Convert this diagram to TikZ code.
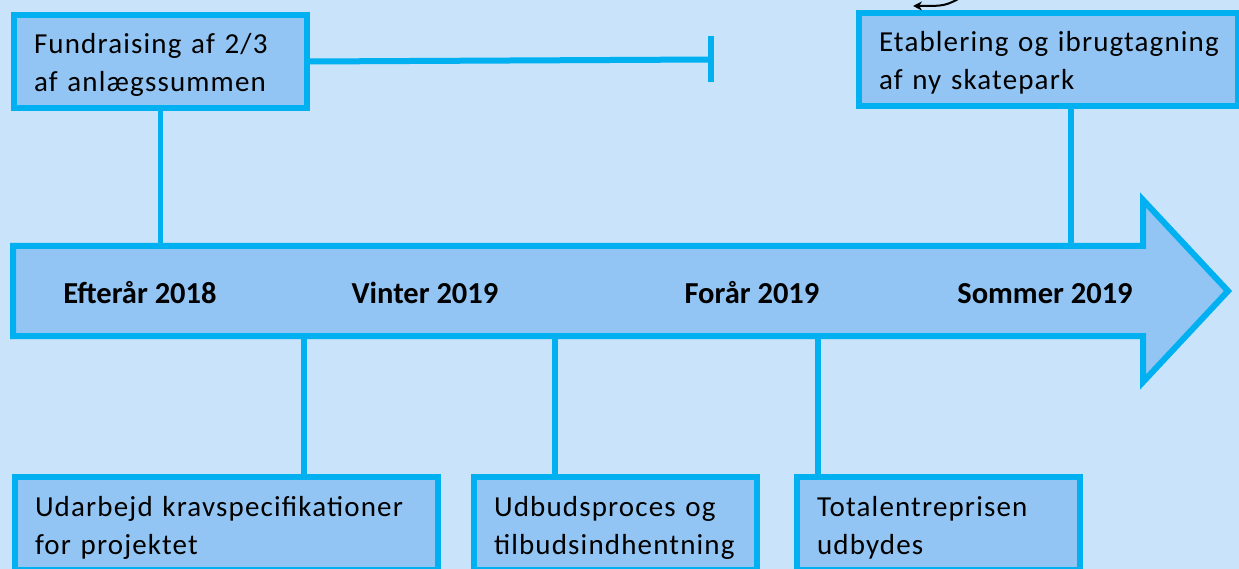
\documentclass[tikz,border=0pt]{standalone}
\usepackage{fontspec}
\setmainfont{Carlito}
\newfontfamily\boxfont{Carlito}[LetterSpace=4,WordSpace=0.75]
\usetikzlibrary{arrows.meta}
\definecolor{bgblue}{RGB}{200,227,250}
\definecolor{boxblue}{RGB}{146,197,244}
\definecolor{lineblue}{RGB}{0,176,240}
\newcommand\topstrut{\rule{0pt}{33pt}}
\newcommand\botstrut{\rule[-10pt]{0pt}{10pt}}
\tikzset{
	box/.style={draw=lineblue, fill=boxblue, line width=6pt, anchor=north west, align=left,
		inner xsep=20pt, inner ysep=6pt, font=\boxfont\fontsize{29}{38}\selectfont},
	link/.style={draw=lineblue, line width=5.5pt},
	season/.style={anchor=base, font=\bfseries\fontsize{30.5}{34}\selectfont}
}

\begin{document}
\begin{tikzpicture}[x=1pt, y=-1pt]
			%%%%% START %%%%%
			
			\useasboundingbox (0, 0) rectangle (1239, 569);
			\clip (0, 0) rectangle (1239, 569);
			\fill[bgblue] (0, 0) rectangle (1239, 569);
			
			% boxes above the arrow
			\node[box, text width=253pt] (fund) at (11, 12) {\topstrut Fundraising af 2/3\\af anlægssummen\botstrut};
			\node[box, text width=339pt] (etab) at (856, 10) {\topstrut Etablering og ibrugtagning\\af ny skatepark\botstrut};
			
			% boxes below the arrow
			\node[box, text width=383pt] (krav) at (12, 474) {\topstrut Udarbejd kravspecifikationer\\for projektet\botstrut};
			\node[box, text width=243pt] (udbud) at (471, 474) {\topstrut Udbudsproces og\\tilbudsindhentning\botstrut};
			\node[box, text width=243pt] (total) at (794, 474) {\topstrut Totalentreprisen\\udbydes\botstrut};
			
			\coordinate (atop) at (13, 246);
			\coordinate (abot) at (13, 336);
			\coordinate (stop) at (711, 59.5);
			
			% connectors
			\draw[link, line width=6pt] (fund.east) -- (stop);
			\draw[link, line width=6.5pt] ([yshift=23pt]stop) -- ([yshift=-23pt]stop);
			\draw[link] (fund.south) -- (fund.south |- atop);
			\draw[link] (1071, 0 |- etab.south) -- (1071, 0 |- atop);
			\draw[link] (304, 0 |- krav.north) -- (304, 0 |- abot);
			\draw[link] (555, 0 |- udbud.north) -- (555, 0 |- abot);
			\draw[link] (818, 0 |- total.north) -- (818, 0 |- abot);
			
			% time arrow
			\draw[draw=lineblue, fill=boxblue, line width=6pt, line join=miter]
				(atop) -- (1143, 246) -- (1143, 200) -- (1228, 291) -- (1143, 382) -- (1143, 336) -- (abot) -- cycle;
			
			\node[season] (h18) at (140, 303) {Efterår 2018};
			\node[season] (v19) at (425, 303) {Vinter 2019};
			\node[season] (f19) at (752, 303) {Forår 2019};
			\node[season] (s19) at (1045, 303) {Sommer 2019};
			
			% stray arrow at the top edge
			\draw[line width=2pt, -{Stealth[length=9pt, width=9pt]}] (962, -3) .. controls (945, 6) .. (913, 6);
			
			%%%%% END %%%%%
		\end{tikzpicture}
\end{document}
